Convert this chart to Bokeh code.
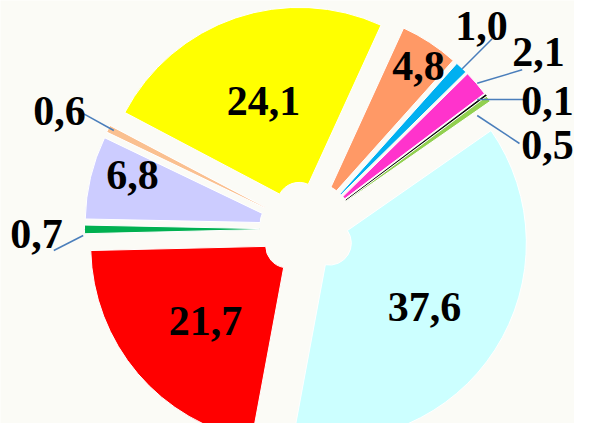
import math
from bokeh.plotting import figure
from bokeh.models import Range1d, ColumnDataSource
from bokeh.core.properties import value
from bokeh.embed import file_html
from bokeh.resources import INLINE

# ---- data (clockwise from the yellow slice) ----
labels = ["24,1", "4,8", "1,0", "2,1", "0,1", "0,5", "37,6", "21,7", "0,7", "6,8", "0,6"]
values = [24.1, 4.8, 1.0, 2.1, 0.1, 0.5, 37.6, 21.7, 0.7, 6.8, 0.6]
colors = ["#FFFF00", "#FF9966", "#00B0F0", "#FF33CC", "#000000", "#92D050",
          "#CCFFFF", "#FF0000", "#00B050", "#CCCCFF", "#FAC090"]

# ---- layout (reference pixel coordinates, y measured downward) ----
H = 439
W_FIG, H_FIG = 574, 423
BG = "#FBFBF6"
CX, CY = 307.0, 228.5      # pie centre
R_OUT, R_IN = 197.0, 22.0  # radii
EXPLODE = 26.0             # explode distance
START_DEG = -62.2          # clockwise from 12 o'clock
TEXT_SHIFT = 15            # baseline correction

# label anchor (centre x, baseline y) in reference pixels
label_pos = [(263, 115), (418, 80), (481, 40), (538, 66), (547, 115), (547, 159),
             (424, 321), (205, 335), (36, 248), (132, 189), (59, 125)]
# leader lines (x0, y0, x1, y1) for the outer labels
leaders = [(491.7, 38.3, 461.7, 68.3), (521.7, 69.3, 476.7, 82.7),
           (527.0, 99.0, 476.7, 99.0), (476.7, 115.0, 519.0, 143.0),
           (53.3, 250.0, 82.7, 235.0), (83.3, 113.3, 113.3, 130.0)]

total = sum(values)
xs, ys, sa, ea, lc, lw = [], [], [], [], [], []
cum = 0.0
for v, c in zip(values, colors):
    t1 = START_DEG + cum / total * 360.0
    t2 = t1 + v / total * 360.0
    tm = math.radians((t1 + t2) / 2)
    xs.append(CX + EXPLODE * math.sin(tm))
    ys.append((H - CY) + EXPLODE * math.cos(tm))
    sa.append(math.radians(90 - t2))
    ea.append(math.radians(90 - t1))
    lc.append("black" if c == "#000000" else "white")
    lw.append(0.8 if c == "#000000" else 1.0)
    cum += v

src = ColumnDataSource(dict(x=xs, y=ys, sa=sa, ea=ea, color=colors, lc=lc, lw=lw))

p = figure(width=W_FIG, height=H_FIG, x_range=Range1d(0, W_FIG),
           y_range=Range1d(H - H_FIG, H),
           output_backend="svg", toolbar_location=None, min_border=0)
p.axis.visible = False
p.grid.visible = False
p.outline_line_color = None
p.background_fill_color = BG
p.border_fill_color = BG

p.annular_wedge(x="x", y="y", inner_radius=R_IN, outer_radius=R_OUT,
                start_angle="sa", end_angle="ea", direction="anticlock",
                fill_color="color", line_color="lc", line_width="lw", source=src)

p.segment(x0=[l[0] for l in leaders], y0=[H - l[1] for l in leaders],
          x1=[l[2] for l in leaders], y1=[H - l[3] for l in leaders],
          line_color="#4A7EBB", line_width=1.5)

p.text(x=[q[0] for q in label_pos], y=[H - (q[1] - TEXT_SHIFT) for q in label_pos],
       text=labels, text_font=value("Liberation Serif"), text_font_style="bold",
       text_font_size="42px", text_align="center", text_baseline="alphabetic",
       text_color="black")

html = file_html(p, INLINE)
html = html.replace("<body>", '<body style="background-color:#FBFBF6;">', 1)
open("out.html", "w").write(html)
